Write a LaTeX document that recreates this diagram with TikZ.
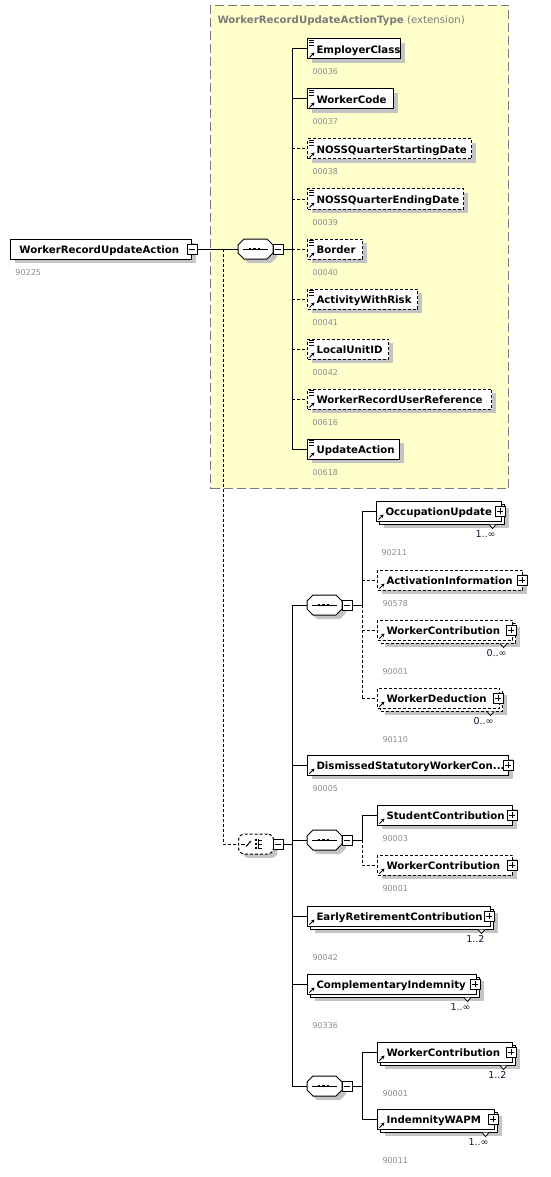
\documentclass[tikz,border=0pt]{standalone}
\usepackage{fontspec}
\setmainfont{DejaVu Sans}
\usetikzlibrary{shadows,arrows.meta}
\definecolor{yfill}{HTML}{FFFFCC}
\definecolor{shadowc}{HTML}{C4C4C4}
\definecolor{codec}{HTML}{8C8C8C}
\definecolor{titlec}{HTML}{7A7A7A}
\definecolor{multc}{HTML}{1E1234}
\tikzset{
  ebox/.style={draw, fill=white, anchor=west, minimum height=20pt, inner sep=0pt},
  req/.style={},
  opt/.style={dash pattern=on 3pt off 2pt},
  shad/.style={general shadow={fill=shadowc, shadow xshift=4pt, shadow yshift=-4pt}},
  etext/.style={anchor=base west, inner sep=0pt, font=\fontsize{10.2}{12}\selectfont\bfseries},
  code/.style={anchor=base west, inner sep=0pt, text=codec, font=\fontsize{8}{10}\selectfont},
  mult/.style={anchor=base east, inner sep=0pt, text=multc, font=\fontsize{9.5}{11}\selectfont},
  pmbox/.style={draw, fill=white, minimum size=10pt, inner sep=0pt},
  minusbox/.style={pmbox, path picture={\draw[line width=1pt] ([xshift=2pt]path picture bounding box.west) -- ([xshift=-2pt]path picture bounding box.east);}},
  plusbox/.style={pmbox, path picture={\draw[line width=1pt] ([xshift=2pt]path picture bounding box.west) -- ([xshift=-2pt]path picture bounding box.east); \draw[line width=1pt] ([yshift=-2pt]path picture bounding box.north) -- ([yshift=2pt]path picture bounding box.south);}},
  seqanchor/.style={anchor=west, minimum width=35pt, minimum height=20pt, inner sep=0pt},
  extbox/.style={draw=titlec, fill=yfill, dash pattern=on 9pt off 4pt, anchor=north west, inner sep=0pt},
}
\newcommand\IcoArrow[1]{\draw[line width=1pt,-{Stealth[length=3.5pt,width=3.5pt]}] ([xshift=2.5pt,yshift=2pt]#1.south west) -- ++(5,-5);}
\newcommand\IcoLines[1]{\foreach \k in {2,4.3,6.6}{\draw[line width=0.9pt] ([xshift=2pt,yshift=-\k pt]#1.north west) -- ++(5,0);}}
\newcommand\ElemS[7]{%
  \node[ebox,#6,shad,minimum width=#4pt] (#1) at (#2,#3) {};
  \node[etext] (#1-t) at ([xshift=9pt,yshift=-4.5pt]#1.west) {#5};
  \node[code] (#1-c) at ([xshift=5pt,yshift=-26pt]#1.west) {#7};
}
\newcommand\ElemM[8]{%
  \node[ebox,#6,shad,minimum width=#4pt] (#1-b) at (#2+3,#3+3) {};
  \node[ebox,#6,minimum width=#4pt] (#1) at (#2,#3) {};
  \draw[line width=0.8pt,fill=white] ([xshift=-16pt]#1-b.south east) -- ++(3.5,4) -- ++(3.5,-4);
  \node[etext] (#1-t) at ([xshift=9pt,yshift=-4.5pt]#1.west) {#5};
  \node[plusbox] (#1-p) at ([xshift=-2pt]#1.east) {};
  \node[mult] (#1-m) at ([xshift=-6pt,yshift=-26pt]#1.east) {#8};
  \node[code] (#1-c) at ([xshift=5pt,yshift=-44pt]#1.west) {#7};
  \IcoArrow{#1}
}
\newcommand\SeqN[3]{%
  \fill[shadowc] (#2+10,#3-6) -- (#2+33,#3-6) -- (#2+39,#3) -- (#2+39,#3+8) -- (#2+33,#3+14) -- (#2+10,#3+14) -- (#2+4,#3+8) -- (#2+4,#3) -- cycle;
  \node[seqanchor] (#1) at (#2,#3) {};
  \draw[fill=white] (#2+6,#3-10) -- (#2+29,#3-10) -- (#2+35,#3-4) -- (#2+35,#3+4) -- (#2+29,#3+10) -- (#2+6,#3+10) -- (#2,#3+4) -- (#2,#3-4) -- cycle;
  \draw (#2+5,#3) -- (#2+30,#3);
  \foreach \d in {12,16.5,21}{\fill (#2+\d-1.4,#3-1.4) rectangle ++(2.8,2.8);}
  \node[minusbox] (#1-p) at (#2+40,#3) {};
}
\begin{document}
\begin{tikzpicture}[x=1pt,y=-1pt,line width=1pt]
\useasboundingbox (0,0) rectangle (551,1177);
% extension area
\node[extbox, minimum width=298pt, minimum height=483pt] (ext) at (210,5) {};
\node[anchor=base west, inner sep=0pt, text=titlec, font=\fontsize{10.2}{12}\selectfont] (ext-t) at (217,23.5) {\textbf{WorkerRecordUpdateActionType} (extension)};
% root
\ElemS{root}{10}{249}{181}{WorkerRecordUpdateAction}{req}{90225}
\node[minusbox] (root-p) at (root.east) {};
% first sequence
\SeqN{s1}{238}{249}
% yellow children
\ElemS{y1}{307}{49}{93}{EmployerClass}{req}{00036}
\ElemS{y2}{307}{99}{86}{WorkerCode}{req}{00037}
\ElemS{y3}{307}{149}{164}{NOSSQuarterStartingDate}{opt}{00038}
\ElemS{y4}{307}{199}{156}{NOSSQuarterEndingDate}{opt}{00039}
\ElemS{y5}{307}{249}{55}{Border}{opt}{00040}
\ElemS{y6}{307}{299}{110}{ActivityWithRisk}{opt}{00041}
\ElemS{y7}{307}{349}{81}{LocalUnitID}{opt}{00042}
\ElemS{y8}{307}{399}{184}{WorkerRecordUserReference}{opt}{00616}
\ElemS{y9}{307}{449}{92}{UpdateAction}{req}{00618}
\foreach \n in {y1,y2,y3,y4,y5,y6,y7,y8,y9}{\IcoLines{\n}\IcoArrow{\n}}
% choice
\node[ebox, opt, rounded corners=6pt, shad, minimum width=35pt] (ch) at (238,844) {};
\draw (241,844) -- (245,844);
\draw (246,846.5) -- (251,841);
\foreach \yy in {840,844,848}{\fill (254.5,\yy-1) rectangle ++(2,2); \draw (258,\yy) -- (262,\yy);}
\draw (258,839) -- (258,849);
\node[minusbox] (ch-p) at (278,844) {};
% sequence A
\SeqN{sA}{307}{605}
\ElemM{occ}{376}{511}{125}{OccupationUpdate}{req}{90211}{1..∞}
\ElemS{act}{377}{580}{145}{ActivationInformation}{opt}{90578}
\node[plusbox] (act-p) at ([xshift=-1pt]act.east) {};
\IcoArrow{act}
\ElemM{wca}{377}{630}{135}{WorkerContribution}{opt}{90001}{0..∞}
\ElemM{ded}{377}{698}{122}{WorkerDeduction}{opt}{90110}{0..∞}
% dismissed
\ElemS{dis}{307}{765}{201}{DismissedStatutoryWorkerCon...}{req}{90005}
\node[plusbox] (dis-p) at ([xshift=-1pt]dis.east) {};
\IcoArrow{dis}
% sequence B
\SeqN{sB}{307}{840}
\ElemS{stu}{377}{815}{135}{StudentContribution}{req}{90003}
\node[plusbox] (stu-p) at ([xshift=-1pt]stu.east) {};
\IcoArrow{stu}
\ElemS{wcb}{377}{865}{135}{WorkerContribution}{opt}{90001}
\node[plusbox] (wcb-p) at ([xshift=-1pt]wcb.east) {};
\IcoArrow{wcb}
% others
\ElemM{ear}{307}{916}{183}{EarlyRetirementContribution}{req}{90042}{1..2}
\ElemM{com}{307}{984}{169}{ComplementaryIndemnity}{req}{90336}{1..∞}
% sequence C
\SeqN{sC}{307}{1086}
\ElemM{wcc}{377}{1052}{135}{WorkerContribution}{req}{90001}{1..2}
\ElemM{ind}{377}{1119}{117}{IndemnityWAPM}{req}{90011}{1..∞}
% connectors
\coordinate (d1) at (223,249);
\coordinate (v1) at (292,249);
\coordinate (v2) at (292,844);
\coordinate (v3) at (362,605);
\coordinate (v4) at (362,840);
\coordinate (v5) at (362,1086);
\draw (root-p.east) -- (s1.west);
\draw[opt] (d1) |- (ch.west);
\draw (s1-p.east) -- (v1);
\draw (v1 |- y1.west) -- (v1 |- y9.west);
\foreach \n in {y1,y2,y9}{\draw (v1 |- \n.west) -- (\n.west);}
\foreach \n in {y3,y4,y5,y6,y7,y8}{\draw[opt] (v1 |- \n.west) -- (\n.west);}
\draw (ch-p.east) -- (v2);
\draw (v2 |- sA.west) -- (v2 |- sC.west);
\foreach \n in {sA,dis,sB,ear,com,sC}{\draw (v2 |- \n.west) -- (\n.west);}
\draw (sA-p.east) -- (v3);
\draw (v3 |- occ.west) -- (v3);
\draw[opt] (v3) -- (v3 |- ded.west);
\draw (v3 |- occ.west) -- (occ.west);
\foreach \n in {act,wca,ded}{\draw[opt] (v3 |- \n.west) -- (\n.west);}
\draw (sB-p.east) -- (v4);
\draw (v4 |- stu.west) -- (v4);
\draw[opt] (v4) -- (v4 |- wcb.west);
\draw (v4 |- stu.west) -- (stu.west);
\draw[opt] (v4 |- wcb.west) -- (wcb.west);
\draw (sC-p.east) -- (v5);
\draw (v5 |- wcc.west) -- (v5 |- ind.west);
\draw (v5 |- wcc.west) -- (wcc.west);
\draw (v5 |- ind.west) -- (ind.west);
\end{tikzpicture}
\end{document}
